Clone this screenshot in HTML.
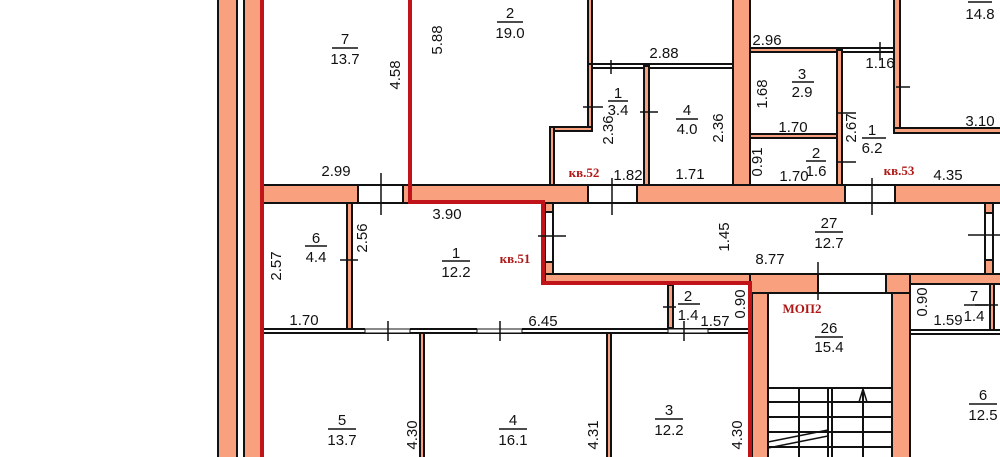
<!DOCTYPE html>
<html><head><meta charset="utf-8"><style>
html,body{margin:0;padding:0;background:#fff;width:1000px;height:457px;overflow:hidden}
svg{display:block}
text{font-family:"Liberation Sans",sans-serif;font-size:15px;fill:#111;text-anchor:middle}
.r{font-family:"Liberation Serif",serif;font-weight:bold;font-size:13px;fill:#b01818}
</style></head><body>
<svg width="1000" height="457" viewBox="0 0 1000 457">
<defs><style>.w{fill:#f9a07e;stroke:#111;stroke-width:2}.l{stroke:#111;stroke-width:2;fill:none}.t{stroke:#111;stroke-width:1.5}</style></defs>
<rect class="w" x="218" y="-5" width="19" height="470"/>
<rect class="w" x="244" y="-5" width="18" height="470"/>
<rect class="w" x="262" y="185" width="96" height="18"/>
<rect class="l" x="358" y="185" width="45" height="18"/>
<rect class="w" x="403" y="185" width="185" height="18"/>
<rect class="l" x="588" y="185" width="49" height="18"/>
<rect class="w" x="637" y="185" width="208" height="18"/>
<rect class="l" x="845" y="185" width="50" height="18"/>
<rect class="w" x="895" y="185" width="110" height="18"/>
<rect class="w" x="733" y="-5" width="17" height="190"/>
<rect class="w" x="588" y="-5" width="4" height="69"/>
<path class="l" d="M590 64 H733 M590 68 H733"/>
<rect class="w" x="588" y="64" width="4" height="66"/>
<rect class="w" x="550" y="127" width="42" height="4"/>
<rect class="w" x="550" y="127" width="4" height="58"/>
<rect class="w" x="644" y="66" width="5" height="119"/>
<rect class="w" x="750" y="48" width="90" height="4"/>
<rect class="l" x="840" y="48" width="55" height="4"/>
<rect class="w" x="750" y="134" width="88" height="4"/>
<rect class="w" x="837" y="50" width="5" height="135"/>
<rect class="w" x="894" y="-5" width="6" height="137"/>
<rect class="w" x="894" y="128" width="111" height="5"/>
<rect class="w" x="545" y="203" width="8" height="72"/>
<rect class="l" x="545" y="212" width="8" height="50" style="fill:#fff"/>
<rect class="w" x="985" y="203" width="8" height="72"/>
<rect class="l" x="985" y="213" width="8" height="47" style="fill:#fff"/>
<rect class="w" x="545" y="274" width="205" height="9"/>
<rect class="w" x="750" y="274" width="68" height="19"/>
<rect class="l" x="818" y="274" width="68" height="19"/>
<rect class="w" x="886" y="274" width="24" height="19"/>
<rect class="w" x="910" y="274" width="95" height="10"/>
<rect class="w" x="752" y="293" width="16" height="170"/>
<rect class="w" x="892" y="293" width="18" height="170"/>
<rect class="w" x="668" y="285" width="5" height="43"/>
<path class="l" d="M264 329 H365 M410 329 H477 M522 329 H748 M264 333 H748"/>
<rect x="365" y="329" width="45" height="4" fill="#fff" stroke="#111" stroke-width="1"/>
<rect x="477" y="329" width="45" height="4" fill="#fff" stroke="#111" stroke-width="1"/>
<rect x="668" y="329" width="40" height="4" fill="#fff" stroke="#111" stroke-width="1"/>
<rect class="w" x="347" y="203" width="5" height="126"/>
<rect class="w" x="420" y="333" width="4" height="130"/>
<rect class="w" x="607" y="333" width="4" height="130"/>
<path class="l" d="M910 330 H1000 M910 334 H1000"/>
<rect class="w" x="990" y="284" width="4" height="46"/>
<path class="l" d="M768 388 H892 M768 402 H892 M768 417 H892 M768 432 H892 M768 447 H892 M799 388 V460 M828 388 V460 M832 388 V460 M863 392 V460"/>
<path d="M768 442 L828 430 M768 448 L828 436" class="t"/>
<path d="M859 402 L863 389 L867 402" class="t" fill="none"/>
<path d="M410 -5 V202 H543 V283 H750 V465" stroke="#c0141a" stroke-width="4" fill="none"/>
<path d="M262 -5 V465" stroke="#c0141a" stroke-width="4"/>
<path class="t" d="M381 173 V215 M612 178 V215 M872 178 V215 M538 236 H566 M818 262 V300 M583 107 H603 M640 112 H658 M838 113 H856 M838 162 H856 M896 87 H910 M880 42 V60 M611 60 V74 M340 260 H358 M388 321 V341 M500 321 V341 M684 321 V341 M663 307 H676 M968 235 H1000 M975 305 H998"/>
<g>
<text x="345" y="44">7</text><line x1="332" y1="48" x2="358" y2="48" class="t"/><text x="345" y="64">13.7</text>
<text x="510" y="18">2</text><line x1="497" y1="22" x2="523" y2="22" class="t"/><text x="510" y="38">19.0</text>
<text x="395" y="75" transform="rotate(-90 395 75)" dy="5">4.58</text>
<text x="437" y="40" transform="rotate(-90 437 40)" dy="5">5.88</text>
<text x="336" y="176">2.99</text><text x="447" y="219">3.90</text>
<text x="664" y="58">2.88</text>
<text x="618" y="98">1</text><line x1="608" y1="101" x2="628" y2="101" class="t"/><text x="618" y="115">3.4</text>
<text x="608" y="130" transform="rotate(-90 608 130)" dy="5">2.36</text>
<text x="687" y="115">4</text><line x1="676" y1="119" x2="698" y2="119" class="t"/><text x="687" y="134">4.0</text>
<text x="718" y="128" transform="rotate(-90 718 128)" dy="5">2.36</text>
<text x="628" y="180">1.82</text><text x="690" y="179">1.71</text>
<text x="767" y="45">2.96</text><text x="880" y="68">1.16</text>
<text x="802" y="79">3</text><line x1="792" y1="82" x2="814" y2="82" class="t"/><text x="802" y="97">2.9</text>
<text x="762" y="94" transform="rotate(-90 762 94)" dy="5">1.68</text>
<text x="793" y="132">1.70</text>
<text x="851" y="128" transform="rotate(-90 851 128)" dy="5">2.67</text>
<text x="872" y="135">1</text><line x1="862" y1="138" x2="886" y2="138" class="t"/><text x="872" y="153">6.2</text>
<text x="757" y="162" transform="rotate(-90 757 162)" dy="5">0.91</text>
<text x="794" y="181">1.70</text>
<text x="816" y="158">2</text><line x1="806" y1="161" x2="826" y2="161" class="t"/><text x="816" y="176">1.6</text>
<text x="948" y="180">4.35</text><text x="980" y="126">3.10</text>
<line x1="968" y1="2" x2="992" y2="2" class="t"/><text x="980" y="19">14.8</text>
<text x="316" y="243">6</text><line x1="305" y1="246" x2="327" y2="246" class="t"/><text x="316" y="262">4.4</text>
<text x="362" y="238" transform="rotate(-90 362 238)" dy="5">2.56</text>
<text x="456" y="258">1</text><line x1="442" y1="261" x2="470" y2="261" class="t"/><text x="456" y="277">12.2</text>
<text x="276" y="266" transform="rotate(-90 276 266)" dy="5">2.57</text>
<text x="304" y="325">1.70</text><text x="543" y="326">6.45</text>
<text x="724" y="237" transform="rotate(-90 724 237)" dy="5">1.45</text>
<text x="829" y="228">27</text><line x1="815" y1="232" x2="843" y2="232" class="t"/><text x="829" y="248">12.7</text>
<text x="770" y="264">8.77</text>
<text x="688" y="301">2</text><line x1="678" y1="304" x2="700" y2="304" class="t"/><text x="688" y="320">1.4</text>
<text x="715" y="326">1.57</text>
<text x="740" y="304" transform="rotate(-90 740 304)" dy="5">0.90</text>
<text x="829" y="333">26</text><line x1="815" y1="337" x2="843" y2="337" class="t"/><text x="829" y="352">15.4</text>
<text x="922" y="302" transform="rotate(-90 922 302)" dy="5">0.90</text>
<text x="948" y="325">1.59</text>
<text x="974" y="301">7</text><line x1="964" y1="305" x2="988" y2="305" class="t"/><text x="974" y="321">1.4</text>
<text x="342" y="425">5</text><line x1="328" y1="429" x2="356" y2="429" class="t"/><text x="342" y="445">13.7</text>
<text x="412" y="435" transform="rotate(-90 412 435)" dy="5">4.30</text>
<text x="513" y="425">4</text><line x1="499" y1="429" x2="527" y2="429" class="t"/><text x="513" y="445">16.1</text>
<text x="593" y="435" transform="rotate(-90 593 435)" dy="5">4.31</text>
<text x="669" y="415">3</text><line x1="655" y1="419" x2="683" y2="419" class="t"/><text x="669" y="435">12.2</text>
<text x="737" y="435" transform="rotate(-90 737 435)" dy="5">4.30</text>
<text x="983" y="400">6</text><line x1="969" y1="404" x2="997" y2="404" class="t"/><text x="983" y="420">12.5</text>
<text class="r" x="584" y="177">кв.52</text>
<text class="r" x="515" y="263">кв.51</text>
<text class="r" x="899" y="175">кв.53</text>
<text class="r" x="802" y="313">МОП2</text>
</g>
</svg>
</body></html>
